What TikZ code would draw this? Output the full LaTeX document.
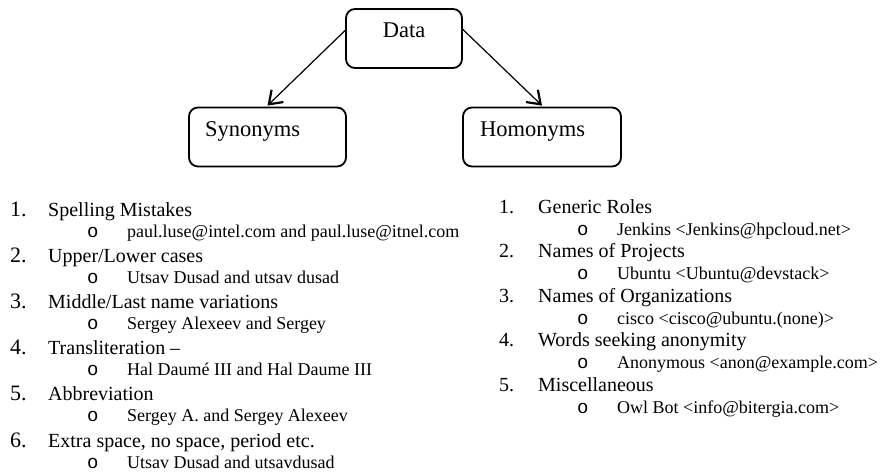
\documentclass[tikz,border=0pt]{standalone}
\usepackage{fontspec}
\setmainfont{Liberation Serif}
\newfontfamily\bulfont{Liberation Mono}
\usetikzlibrary{arrows.meta}

\tikzset{
 box/.style={draw, rounded corners=9pt, line width=1.8pt, inner ysep=0pt,
   text height=29pt, text depth=30pt, font=\fontsize{22.5}{26}\selectfont},
 head/.style={anchor=base west, inner sep=0pt, font=\fontsize{20}{24}\selectfont},
 sub/.style={anchor=base west, inner sep=0pt, font=\fontsize{18}{22}\selectfont},
 bul/.style={anchor=base west, inner sep=0pt, font=\bulfont\fontsize{19}{22}\selectfont},
 link/.style={line width=1.2pt, -{Straight Barb[length=12pt,width=17pt,line width=2.2pt]}}
}

\begin{document}
\begin{tikzpicture}[x=1pt,y=-1pt]
\useasboundingbox (0,0) rectangle (880,473);
\node[box, inner xsep=0pt, text width=116pt, align=center] (data) at (404,38.5) {Data};
\node[box, inner xsep=16pt, text width=125pt, align=left] (syn) at (267.5,137) {Synonyms};
\node[box, inner xsep=17pt, text width=124pt, align=left] (hom) at (542,137) {Homonyms};
\draw[link] ([yshift=8pt]data.west) -- ([yshift=1pt]syn.north);
\draw[link] ([yshift=9pt]data.east) -- ([yshift=1pt]hom.north);
% synonyms list
\foreach \i/\h/\s in {1/{Spelling Mistakes}/{paul.luse@intel.com and paul.luse@itnel.com},
  2/{Upper/Lower cases}/{Utsav Dusad and utsav dusad},
  3/{Middle/Last name variations}/{Sergey Alexeev and Sergey},
  4/{Transliteration –}/{Hal Daumé III and Hal Daume III},
  5/{Abbreviation}/{Sergey A. and Sergey Alexeev},
  6/{Extra space, no space, period etc.}/{Utsav Dusad and utsavdusad}}{
\pgfmathsetmacro\yy{216+46.2*(\i-1)}
\node[head, font=\fontsize{22}{26}\selectfont] (lnum-\i) at (10,\yy) {\i.};
\node[head] (lhead-\i) at (48,\yy) {\h};
\node[bul] (lbul-\i) at (87,\yy+21) {o};
\node[sub] (lsub-\i) at (127,\yy+21) {\s};
};
% homonyms list
\foreach \i/\h/\s in {1/{Generic Roles}/{Jenkins <Jenkins@hpcloud.net>},
  2/{Names of Projects}/{Ubuntu <Ubuntu@devstack>},
  3/{Names of Organizations}/{cisco <cisco@ubuntu.(none)>},
  4/{Words seeking anonymity}/{Anonymous <anon@example.com>},
  5/{Miscellaneous}/{Owl Bot <info@bitergia.com>}}{
\pgfmathsetmacro\yy{213+44.5*(\i-1)}
\node[head] (rnum-\i) at (499,\yy) {\i.};
\node[head] (rhead-\i) at (538,\yy) {\h};
\node[bul] (rbul-\i) at (577,\yy+22) {o};
\node[sub] (rsub-\i) at (617,\yy+22) {\s};
};
\end{tikzpicture}
\end{document}
